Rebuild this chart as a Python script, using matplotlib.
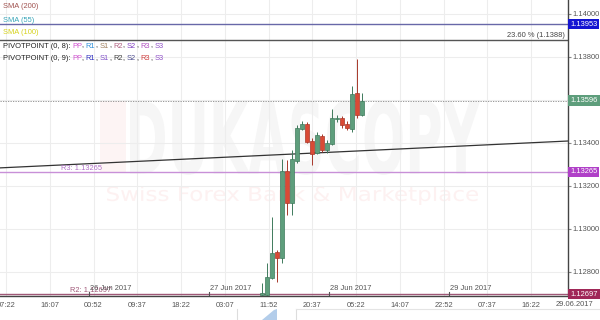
import numpy as np
import matplotlib
matplotlib.use("Agg")
import matplotlib.pyplot as plt
from matplotlib.textpath import TextPath
from matplotlib.patches import PathPatch, Polygon
from matplotlib.font_manager import FontProperties
from matplotlib.transforms import Affine2D, blended_transform_factory

plt.rcParams['font.family'] = ['Liberation Sans', 'DejaVu Sans']

## data: hourly candles, x = hours from 27 Jun 2017 00:00
hours = list(range(10, 31))
opens = [1.12693, 1.12693, 1.12772, 1.12893, 1.12865, 1.13270, 1.13121, 1.13316, 1.13465, 1.13488, 1.13409,
         1.13353, 1.13433, 1.13367, 1.13395, 1.13512, 1.13516, 1.13488, 1.13465, 1.13633, 1.13530]
highs = [1.12749, 1.12842, 1.13056, 1.12902, 1.13326, 1.13321, 1.13367, 1.13484, 1.13502, 1.13498, 1.13424,
         1.13451, 1.13442, 1.13414, 1.13558, 1.13530, 1.13526, 1.13502, 1.13665, 1.13791, 1.13633]
lows = [1.12688, 1.12688, 1.12767, 1.12753, 1.12842, 1.13065, 1.13065, 1.13307, 1.13460, 1.13400, 1.13298,
        1.13349, 1.13358, 1.13353, 1.13391, 1.13498, 1.13470, 1.13460, 1.13451, 1.13516, 1.13526]
closes = [1.12702, 1.12777, 1.12888, 1.12865, 1.13270, 1.13121, 1.13326, 1.13470, 1.13488, 1.13405, 1.13349,
          1.13437, 1.13367, 1.13400, 1.13516, 1.13516, 1.13484, 1.13470, 1.13628, 1.13530, 1.13596]

# garis horizontal
level_blue = 1.13953
level_fib = 1.1388
fib_text = "23.60 % (1.1388)"
level_last = 1.13596
level_r3 = 1.13265
level_r2 = 1.12697
trend_y = [1.13284, 1.13409]

# sumbu
time_ticks = [-40.633, -31.883, -23.133, -14.383, -5.633, 3.117, 11.867, 20.617, 29.367, 38.117, 46.867, 55.617, 64.367]
time_labels = ['07:22', '16:07', '00:52', '09:37', '18:22', '03:07', '11:52', '20:37', '05:22', '14:07',
               '22:52', '07:37', '16:22']
date_marks = [-24, 0, 24, 48]
date_labels = ['26 Jun 2017', '27 Jun 2017', '28 Jun 2017', '29 Jun 2017']
price_ticks = [1.128, 1.130, 1.132, 1.134, 1.136, 1.138, 1.140]
price_labels = ['1.12800', '1.13000', '1.13200', '1.13400', '', '1.13800', '1.14000']
now_label = '29.06.2017'

FS = 5.4
fig = plt.figure(figsize=(6, 3.2), dpi=100, facecolor='white')

# layer belakang dalam koordinat piksel (watermark + navigator)
ov = fig.add_axes([0, 0, 1, 1], zorder=0)
ov.set_xlim(0, 600)
ov.set_ylim(320, 0)
ov.axis('off')


def watermark(text, box, color, weight='bold'):
    x0, y0, x1, y1 = box
    tp = TextPath((0, 0), text, size=1, prop=FontProperties(family='DejaVu Sans', weight=weight))
    e = tp.get_extents()
    tr = Affine2D().translate(-e.x0, -e.y0).scale((x1 - x0) / e.width, -(y1 - y0) / e.height).translate(x0, y1)
    ov.add_patch(PathPatch(tr.transform_path(tp), fc=color, ec='none'))


ov.add_patch(Polygon([(100, 100), (126, 100), (126, 172), (100, 172)], closed=True, fc='#fdf4f4', ec='none'))
watermark("DUKASCOPY", (130, 100, 480, 175), '#f6f6f6')
watermark("Swiss Forex Bank & Marketplace", (107, 186, 478, 205), '#fdf1f1', weight='normal')

# navigator bawah
ov.plot([237, 237], [309, 320], color='#dddddd', lw=0.8)
ov.plot([296, 296], [309, 320], color='#dddddd', lw=0.8)
ov.plot([296, 600], [309, 309], color='#e4e4e4', lw=0.8)
ov.add_patch(Polygon([(262, 320), (268, 315), (274, 310), (277, 309), (277, 320)], closed=True,
                     fc='#b3cdea', ec='none'))

# plot utama
ax = fig.add_axes([0, 24 / 320, 568 / 600, 296 / 320], zorder=1)
ax.patch.set_alpha(0)
ax.set_xlim(-41.84, 71.76)
ax.set_ylim(1.12688, 1.14065)

for s in ['top', 'left']:
    ax.spines[s].set_visible(False)
for s in ['right', 'bottom']:
    ax.spines[s].set_color('#444444')
    ax.spines[s].set_linewidth(1.0)

ax.set_xticks(time_ticks)
ax.set_xticklabels(time_labels)
ax.yaxis.tick_right()
ax.set_yticks(price_ticks)
ax.set_yticklabels(price_labels)
ax.tick_params(axis='x', length=0, pad=4, labelsize=FS, labelcolor='#555555')
ax.tick_params(axis='y', length=2, pad=1.5, labelsize=FS, labelcolor='#555555', color='#888888')
ax.grid(True, color='#ededed', lw=0.8)
ax.set_axisbelow(True)

xl = ax.get_xlim()
bt = blended_transform_factory(ax.transAxes, ax.transData)
bd = blended_transform_factory(ax.transData, ax.transAxes)

ax.axhline(level_blue, color='#6868a8', lw=1.0, zorder=2)
ax.axhline(level_fib, color='#555555', lw=1.0, zorder=2)
ax.text(0.995, level_fib + 0.00003, fib_text, transform=bt, ha='right', va='bottom', fontsize=FS, color='#444444')
ax.axhline(level_last, color='#888888', lw=0.6, ls=(0, (1.5, 1.5)), zorder=2)
ax.plot(xl, trend_y, color='#333333', lw=0.9, zorder=2)
ax.axhline(level_r3, color='#c890d8', lw=1.0, zorder=2)
ax.text(0.108, level_r3 + 0.00002, 'R3: %.5f' % level_r3, transform=bt, ha='left', va='bottom', fontsize=FS,
        color='#b070c8')
ax.axhline(level_r2, color='#a05878', lw=1.0, zorder=2)
ax.text(0.124, level_r2 + 0.00001, 'R2: %.5f' % level_r2, transform=bt, ha='left', va='bottom', fontsize=FS,
        color='#a05878')

# penanda tanggal
for d, lab in zip(date_marks, date_labels):
    ax.plot([d, d], [0, 0.013], color='#555555', lw=0.8, transform=bd)
    ax.text(d + 0.2, 0.012, lab, transform=bd, ha='left', va='bottom', fontsize=FS, color='#555555')

# candlestick
x = np.array(hours) + 0.5
o = np.array(opens)
h = np.array(highs)
l = np.array(lows)
c = np.array(closes)
up = c >= o
fc = np.where(up, '#5e9e7c', '#d94a35')
ec = np.where(up, '#3f7a5c', '#a8382a')
ax.vlines(x, l, h, colors=ec, lw=0.7, zorder=3)
ax.bar(x, np.maximum(np.abs(c - o), 0.00002), bottom=np.minimum(o, c), width=0.8, color=fc, edgecolor=ec,
       linewidth=0.5, zorder=4)

# kotak nilai di sumbu kanan
for val, col in [(level_blue, '#1414d2'), (level_last, '#5e9e7c'), (level_r3, '#b040c8'), (level_r2, '#a02858')]:
    ax.text(1.004, val, '%.5f' % val, transform=bt, ha='left', va='center', fontsize=FS, color='white',
            bbox=dict(boxstyle='square,pad=0.25', fc=col, ec='none'), clip_on=False, zorder=5)

fig.text(575 / 600, 1 - 305 / 320, now_label, ha='center', va='center', fontsize=FS, color='#555555')

# legenda kiri atas, teks berwarna per potongan
renderer = fig.canvas.get_renderer()


def text_width(s):
    t = fig.text(0, 0, s, fontsize=FS)
    w = t.get_window_extent(renderer).width
    t.remove()
    return w


def colored_row(y_px, tokens):
    x0 = 3
    s = ''
    for txt, col in tokens:
        s += txt
        if col is None:
            continue
        xp = x0 + text_width(s) - text_width(txt)
        fig.text(xp / 600, 1 - y_px / 320, txt, fontsize=FS, color=col, va='center', ha='left')


def pivot_tokens(head, cols):
    names = ['PP', 'R1', 'S1', 'R2', 'S2', 'R3', 'S3']
    toks = [(head, '#222222')]
    for i, (n, cl) in enumerate(zip(names, cols)):
        toks.append((' ', None))
        toks.append((n, cl))
        if i < len(names) - 1:
            toks.append((',', '#222222'))
    return toks


colored_row(7, [('SMA (200)', '#a0524f')])
colored_row(20, [('SMA (55)', '#3aa6b9')])
colored_row(33, [('SMA (100)', '#d6d21c')])
colored_row(46, pivot_tokens('PIVOTPOINT (0, 8):',
                             ['#d050d0', '#2f8fd8', '#a08060', '#b06080', '#8040c0', '#b050c0', '#9050c8']))
colored_row(59, pivot_tokens('PIVOTPOINT (0, 9):',
                             ['#d050d0', '#3030c0', '#8050c8', '#404040', '#505090', '#d04040', '#9050c8']))

plt.savefig('out.png', dpi=100, facecolor='white')
